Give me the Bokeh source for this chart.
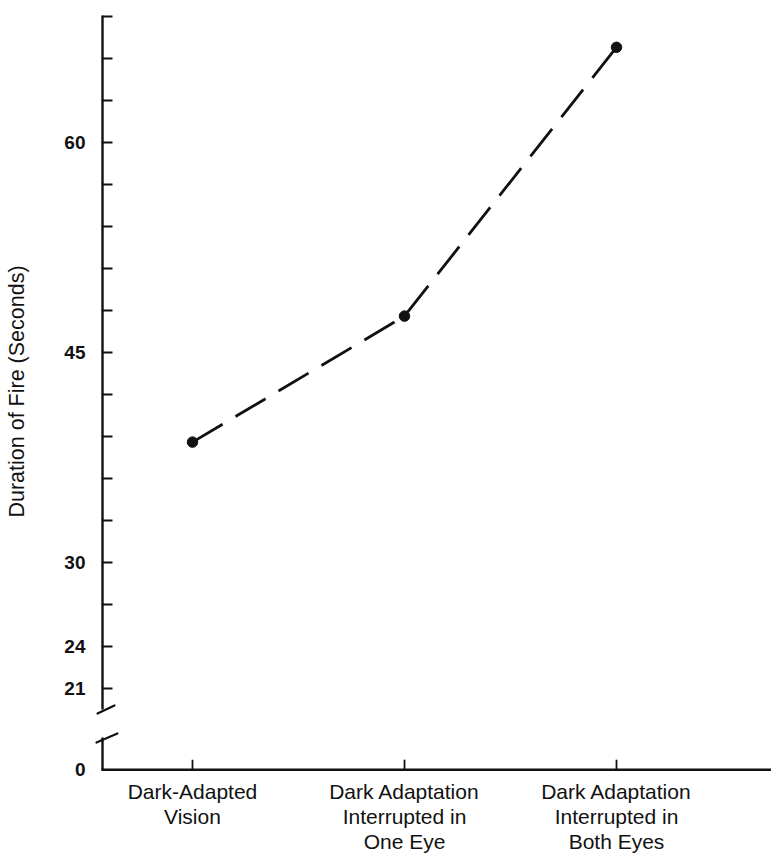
from bokeh.plotting import figure
from bokeh.models import FixedTicker, Range1d
from bokeh.embed import file_html
from bokeh.resources import INLINE

# ---- data ----
categories = [
    "Dark-Adapted\nVision",
    "Dark Adaptation\nInterrupted in\nOne Eye",
    "Dark Adaptation\nInterrupted in\nBoth Eyes",
]
durations = [38.6, 47.6, 66.8]
y_minor_ticks = [21, 24, 27, 30, 33, 36, 39, 42, 45, 48, 51, 54, 57, 60, 63, 66, 69]
y_labeled = [21, 24, 30, 45, 60]
y_title = "Duration of Fire (Seconds)"

# ---- layout constants (broken axis) ----
ZERO_POS = 15.2          # where "0" is drawn below the axis break
AX = 0.5755              # x position of the vertical axis line
X_END = 3.726
TOP = 69
BREAK_HI, BREAK_LO = 19.57, 17.43

xs = list(range(1, len(categories) + 1))

p = figure(width=771, height=857, output_backend="svg", toolbar_location=None,
           x_range=Range1d(0.5283, 3.7311), y_range=Range1d(15.0, 69.43),
           min_border_left=92, min_border_right=0, min_border_top=10, min_border_bottom=85)
p.outline_line_color = None
p.grid.visible = False
p.background_fill_color = "white"
p.border_fill_color = "white"

black = "#111111"
# axis lines (with a break between 21 and 0)
p.segment(x0=[AX, AX, AX], y0=[TOP, BREAK_LO, ZERO_POS], x1=[AX, AX, X_END], y1=[BREAK_HI, ZERO_POS, ZERO_POS],
          line_color=black, line_width=2.4, line_cap="round")
# y ticks (pointing inward)
tlen = 10 / 212
p.segment(x0=[AX] * len(y_minor_ticks), y0=y_minor_ticks, x1=[AX + tlen] * len(y_minor_ticks), y1=y_minor_ticks,
          line_color=black, line_width=2)
# x ticks (pointing up)
p.segment(x0=xs, y0=[ZERO_POS] * len(xs), x1=xs, y1=[ZERO_POS + 10 / 14] * len(xs),
          line_color=black, line_width=1.8)
# break marks
p.segment(x0=[0.552, 0.547], y0=[19.21, 17.14], x1=[0.632, 0.646], y1=[19.79, 17.79],
          line_color=black, line_width=2.2, line_cap="round")

# data
p.line(xs, durations, line_color=black, line_width=2.8, line_dash="35 15")
p.scatter(xs, durations, size=10.5, fill_color=black, line_color=black)

# y axis labels
yax = p.yaxis[0]
yax.ticker = FixedTicker(ticks=[ZERO_POS] + y_labeled)
yax.major_label_overrides = {ZERO_POS: "0"}
yax.axis_line_color = None
yax.major_tick_in = 0
yax.major_tick_out = 0
yax.minor_tick_in = 0
yax.minor_tick_out = 0
yax.major_label_standoff = 7
yax.major_label_text_font = "Liberation Sans"
yax.major_label_text_font_style = "bold"
yax.major_label_text_font_size = "19px"
yax.major_label_text_color = black
yax.axis_label = y_title
yax.axis_label_text_font = "Liberation Sans"
yax.axis_label_text_font_style = "normal"
yax.axis_label_text_font_size = "21.5px"
yax.axis_label_text_color = black
yax.axis_label_standoff = 32

# x axis labels
xax = p.xaxis[0]
xax.ticker = FixedTicker(ticks=xs)
xax.major_label_overrides = {x: c for x, c in zip(xs, categories)}
xax.axis_line_color = None
xax.major_tick_in = 0
xax.major_tick_out = 0
xax.minor_tick_in = 0
xax.minor_tick_out = 0
xax.major_label_standoff = 7
xax.major_label_text_font = "Liberation Sans"
xax.major_label_text_font_size = "21px"
xax.major_label_text_line_height = 1.1
xax.major_label_text_color = black

open("out.html", "w").write(file_html(p, INLINE))
